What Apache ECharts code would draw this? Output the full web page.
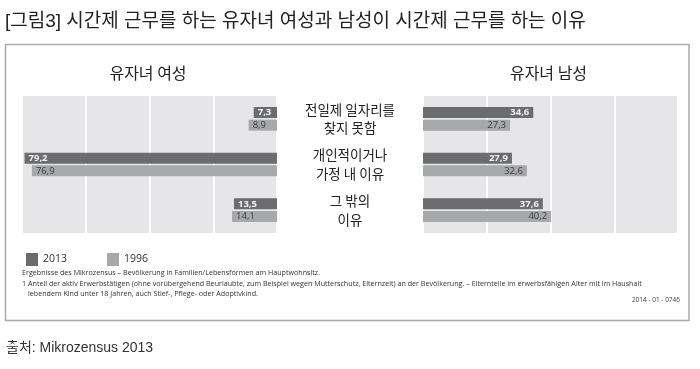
<!DOCTYPE html>
<html>
<head>
<meta charset="utf-8">
<script src="https://cdn.jsdelivr.net/npm/echarts@6/dist/echarts.min.js"></script>
<style>html,body{margin:0;padding:0;background:#fff;}#c{width:700px;height:369px;}</style>
</head>
<body>
<div id="c"></div>
<script>
const categories = ['전일제 일자리를\n찾지 못함', '개인적이거나\n가정 내 이유', '그 밖의\n이유'];
const women2013 = [7.3, 79.2, 13.5];
const women1996 = [8.9, 76.9, 14.1];
const men2013 = [34.6, 27.9, 37.6];
const men1996 = [27.3, 32.6, 40.2];
const seriesNames = ['2013', '1996'];
const panelTitles = ['유자녀 여성', '유자녀 남성'];
const axisMin = 0, axisMax = 80, axisStep = 20;
const chartTitle = '[그림3] 시간제 근무를 하는 유자녀 여성과 남성이 시간제 근무를 하는 이유';
const sourceText = '출처: Mikrozensus 2013';
const footLines = [
  'Ergebnisse des Mikrozensus \u2013 Bevölkerung in Familien/Lebensformen am Hauptwohnsitz.',
  'Anteil der aktiv Erwerbstätigen (ohne vorübergehend Beurlaubte, zum Beispiel wegen Mutterschutz, Elternzeit) an der Bevölkerung. \u2013 Elternteile im erwerbsfähigen Alter mit im Haushalt',
  'lebendem Kind unter 18 Jahren, auch Stief-, Pflege- oder Adoptivkind.'
];
const docCode = '2014 - 01 - 0746';

const DARK = '#6b6c6e', LIGHT = '#a7a8aa', BG = '#e6e6e8';
const fmt = p => String(p.value).replace('.', ',');
const labelFont = 'Open Sans';

function xAx(idx, inverse) {
  return {
    gridIndex: idx, type: 'value', min: axisMin, max: axisMax, interval: axisStep, inverse: inverse,
    axisLabel: {show: false}, axisLine: {show: false}, axisTick: {show: false},
    splitLine: {show: true, lineStyle: {color: '#ffffff', width: 2}}
  };
}
function yAx(idx, showLabel) {
  return {
    gridIndex: idx, type: 'category', data: categories, inverse: true,
    axisLine: {show: false}, axisTick: {show: false}, splitLine: {show: false},
    axisLabel: {show: showLabel, margin: 73, align: 'center', fontFamily: 'Noto Sans CJK KR',
      fontSize: 13.5, lineHeight: 18.5, color: '#222'}
  };
}
function bar(name, data, idx, color, pos, txtColor, weight) {
  return {
    name: name, type: 'bar', xAxisIndex: idx, yAxisIndex: idx, data: data,
    barWidth: 11, barGap: '15%', itemStyle: {color: color},
    label: {show: true, position: pos, distance: 4, formatter: fmt, color: txtColor,
      fontFamily: labelFont, fontSize: 9.5, fontWeight: weight},
    silent: true, animation: false
  };
}

const chart = echarts.init(document.getElementById('c'), null, {renderer: 'canvas'});
const g = [];
const footFont = '7.15px "Open Sans"';
g.push({type: 'rect', shape: {x: 5.5, y: 44.5, width: 683.5, height: 276}, style: {fill: 'none', stroke: '#aaaaaa', lineWidth: 1.5}});
g.push({type: 'text', x: 5, y: 22, style: {text: chartTitle, font: '19px "Liberation Sans", "Noto Sans CJK KR"', fill: '#222', align: 'left', verticalAlign: 'middle'}});
g.push({type: 'text', x: 148, y: 73, style: {text: panelTitles[0], font: '16px "Noto Sans CJK KR"', fill: '#222', align: 'center', verticalAlign: 'middle'}});
g.push({type: 'text', x: 548.5, y: 73, style: {text: panelTitles[1], font: '16px "Noto Sans CJK KR"', fill: '#222', align: 'center', verticalAlign: 'middle'}});
g.push({type: 'text', x: 22, y: 273, style: {text: footLines[0], font: footFont, fill: '#333', align: 'left', verticalAlign: 'middle'}});
g.push({type: 'text', x: 22, y: 283.5, style: {text: '1', font: footFont, fill: '#333', align: 'left', verticalAlign: 'middle'}});
g.push({type: 'text', x: 28, y: 283.5, style: {text: footLines[1], font: footFont, fill: '#333', align: 'left', verticalAlign: 'middle'}});
g.push({type: 'text', x: 28, y: 294, style: {text: footLines[2], font: footFont, fill: '#333', align: 'left', verticalAlign: 'middle'}});
g.push({type: 'text', x: 680, y: 300, style: {text: docCode, font: '6.5px "Open Sans"', fill: '#444', align: 'right', verticalAlign: 'middle'}});
g.push({type: 'text', x: 6, y: 348, style: {text: sourceText, font: '14px "Liberation Sans", "Noto Sans CJK KR"', fill: '#333', align: 'left', verticalAlign: 'middle'}});

chart.setOption({
  animation: false,
  backgroundColor: '#ffffff',
  grid: [
    {left: 22, top: 96, width: 255, height: 137, show: true, backgroundColor: BG, borderWidth: 0},
    {left: 423, top: 96, width: 255, height: 137, show: true, backgroundColor: BG, borderWidth: 0}
  ],
  xAxis: [xAx(0, true), xAx(1, false)],
  yAxis: [yAx(0, false), yAx(1, true)],
  legend: {
    left: 21, top: 248, icon: 'rect', itemWidth: 12, itemHeight: 13, itemGap: 40,
    data: seriesNames, textStyle: {fontFamily: labelFont, fontSize: 10.5, color: '#333'}, selectedMode: false
  },
  series: [
    bar(seriesNames[0], women2013, 0, DARK, 'insideLeft', '#f2f2f2', 'bold'),
    bar(seriesNames[1], women1996, 0, LIGHT, 'insideLeft', '#3a3a3a', 'normal'),
    bar(seriesNames[0], men2013, 1, DARK, 'insideRight', '#f2f2f2', 'bold'),
    bar(seriesNames[1], men1996, 1, LIGHT, 'insideRight', '#3a3a3a', 'normal')
  ],
  graphic: g
});
</script>
</body>
</html>
